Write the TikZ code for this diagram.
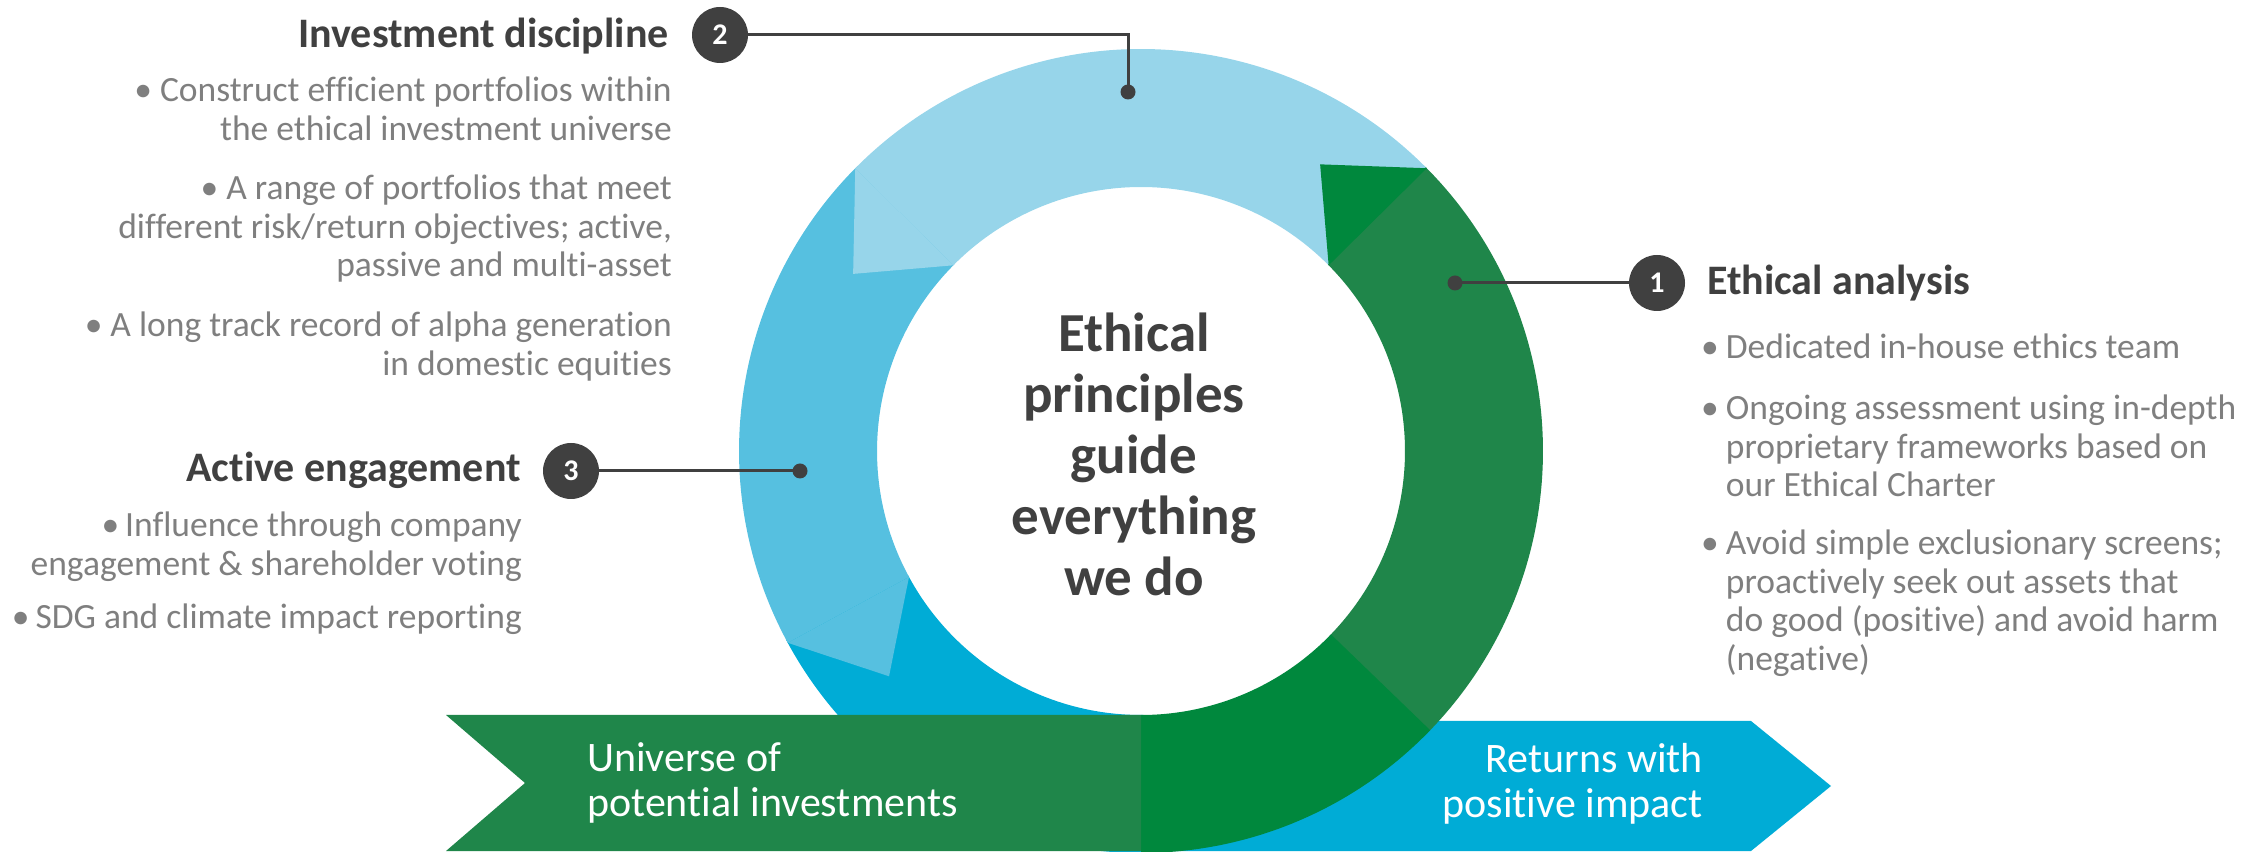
\documentclass[tikz,border=0pt]{standalone}
\usepackage{fontspec}
\setmainfont{Carlito}[Ligatures={NoCommon}]
\usetikzlibrary{calc}

\definecolor{ringlight}{HTML}{97D5EA}
\definecolor{ringmid}{HTML}{56C0E0}
\definecolor{ringblue}{HTML}{00ACD6}
\definecolor{ringgreen}{HTML}{1F864A}
\definecolor{ringbright}{HTML}{00883D}
\definecolor{darktext}{HTML}{404040}
\definecolor{graytext}{HTML}{7F7F7F}

% ring radii (outer, inner, arrow tip)
\newcommand\Rout{402}
\newcommand\Rin{264}
\newcommand\Rmid{338}

% annular sector of the ring: colour, start angle, end angle
\newcommand\ringsector[3]{%
  \fill[#1] ($(C)+(#2:\Rout)$) arc[start angle=#2, end angle=#3, radius=\Rout]
    -- ($(C)+(#3:\Rin)$) arc[start angle=#3, end angle=#2, radius=\Rin] -- cycle;}
% arrow tip at the counter-clockwise end of a sector: colour, base angle, tip angle
\newcommand\ringtip[3]{%
  \fill[#1] ($(C)+(#2:\Rout)$) -- ($(C)+(#3:\Rmid)$) -- ($(C)+(#2:\Rin)$) -- cycle;}

\begin{document}
\begin{tikzpicture}[x=1pt,y=1pt,
  badge/.style={circle, fill=darktext, text=white,
    font=\bfseries\fontsize{30}{30}\selectfont, minimum size=56pt, inner sep=0pt},
  leader/.style={draw=darktext, line width=3pt},
  enddot/.style={circle, fill=darktext, minimum size=15pt, inner sep=0pt},
  heading/.style={text=darktext, font=\bfseries\fontsize{42}{42}\selectfont, inner sep=0pt},
  bullets/.style={text=graytext, font=\fontsize{35.5}{38.5}\selectfont, inner sep=0pt},
  centertext/.style={text=darktext, font=\bfseries\fontsize{55}{61}\selectfont, inner sep=0pt},
  bannertext/.style={text=white, font=\fontsize{42}{45}\selectfont, inner sep=0pt}
]
\useasboundingbox (0,0) rectangle (2242,851);
\coordinate (C) at (1141,400);

% outgoing arrow, behind the ring
\fill[ringblue] (1141,130) -- (1751,130) -- (1831,65) -- (1751,0) -- (1141,0) -- cycle;

% the ring, counter-clockwise flow
\ringsector{ringblue}{208}{270.5}
\ringsector{ringmid}{134.8}{208.5}
\ringtip{ringmid}{208.5}{221.8}
\ringsector{ringlight}{44.7}{135.3}
\ringtip{ringlight}{135.3}{148.4}
\ringsector{ringgreen}{-44.5}{44.9}
\ringtip{ringbright}{44.7}{58}
\ringsector{ringbright}{-90}{-44}

% incoming banner
\fill[ringgreen] (446,136) -- (1141,136) -- (1141,0) -- (446,0) -- (525,68) -- cycle;

% centre
\node[centertext, anchor=base] (core) at (1134,499)
  {\begin{tabular}[t]{@{}c@{}}Ethical\\principles\\guide\\everything\\we do\end{tabular}};

% banner labels
\node[bannertext, anchor=base west] (inlabel) at (587,79)
  {\begin{tabular}[t]{@{}l@{}}Universe of\\potential investments\end{tabular}};
\node[bannertext, anchor=base east] (outlabel) at (1703,78)
  {\begin{tabular}[t]{@{}r@{}}Returns with\\positive impact\end{tabular}};

% 2: investment discipline
\node[heading, anchor=base east] (h2) at (669,803) {Investment discipline};
\node[badge] (b2) at (720,816) {2};
\node[bullets, anchor=base east] (p21) at (672,749)
  {\begin{tabular}[t]{@{}r@{}}• Construct efficient portfolios within\\the ethical investment universe\end{tabular}};
\node[bullets, anchor=base east] (p22) at (672,651)
  {\begin{tabular}[t]{@{}r@{}}• A range of portfolios that meet\\different risk/return objectives; active,\\passive and multi-asset\end{tabular}};
\node[bullets, anchor=base east] (p23) at (672,514)
  {\begin{tabular}[t]{@{}r@{}}• A long track record of alpha generation\\in domestic equities\end{tabular}};

% 3: active engagement
\node[heading, anchor=base east] (h3) at (521,369) {Active engagement};
\node[badge] (b3) at (571,380) {3};
\node[bullets, anchor=base east] (p31) at (522,314)
  {\begin{tabular}[t]{@{}r@{}}•\,Influence through company\\engagement \& shareholder voting\end{tabular}};
\node[bullets, anchor=base east] (p32) at (522,222)
  {\begin{tabular}[t]{@{}r@{}}•\,SDG and climate impact reporting\end{tabular}};

% 1: ethical analysis
\node[badge] (b1) at (1657,568) {1};
\node[heading, anchor=base west] (h1) at (1707,556) {Ethical analysis};
\node[bullets, anchor=base west] (p11) at (1701,492)
  {\begin{tabular}[t]{@{}l@{\hspace{7pt}}l@{}}•&Dedicated in-house ethics team\end{tabular}};
\node[bullets, anchor=base west] (p12) at (1701,431)
  {\begin{tabular}[t]{@{}l@{\hspace{7pt}}l@{}}•&Ongoing assessment using in-depth\\&proprietary frameworks based on\\&our Ethical Charter\end{tabular}};
\node[bullets, anchor=base west] (p13) at (1701,296)
  {\begin{tabular}[t]{@{}l@{\hspace{7pt}}l@{}}•&Avoid simple exclusionary screens;\\&proactively seek out assets that\\&do good (positive) and avoid harm\\&(negative)\end{tabular}};

% leader lines to the ring
\node[enddot] (d2) at (1128,759) {};
\node[enddot] (d3) at (800,380) {};
\node[enddot] (d1) at (1455,568) {};
\coordinate (k2) at (1128,816);
\draw[leader] (b2) -- (k2) -- (d2.center);
\draw[leader] (b3) -- (d3.center);
\draw[leader] (b1) -- (d1.center);
\end{tikzpicture}
\end{document}
